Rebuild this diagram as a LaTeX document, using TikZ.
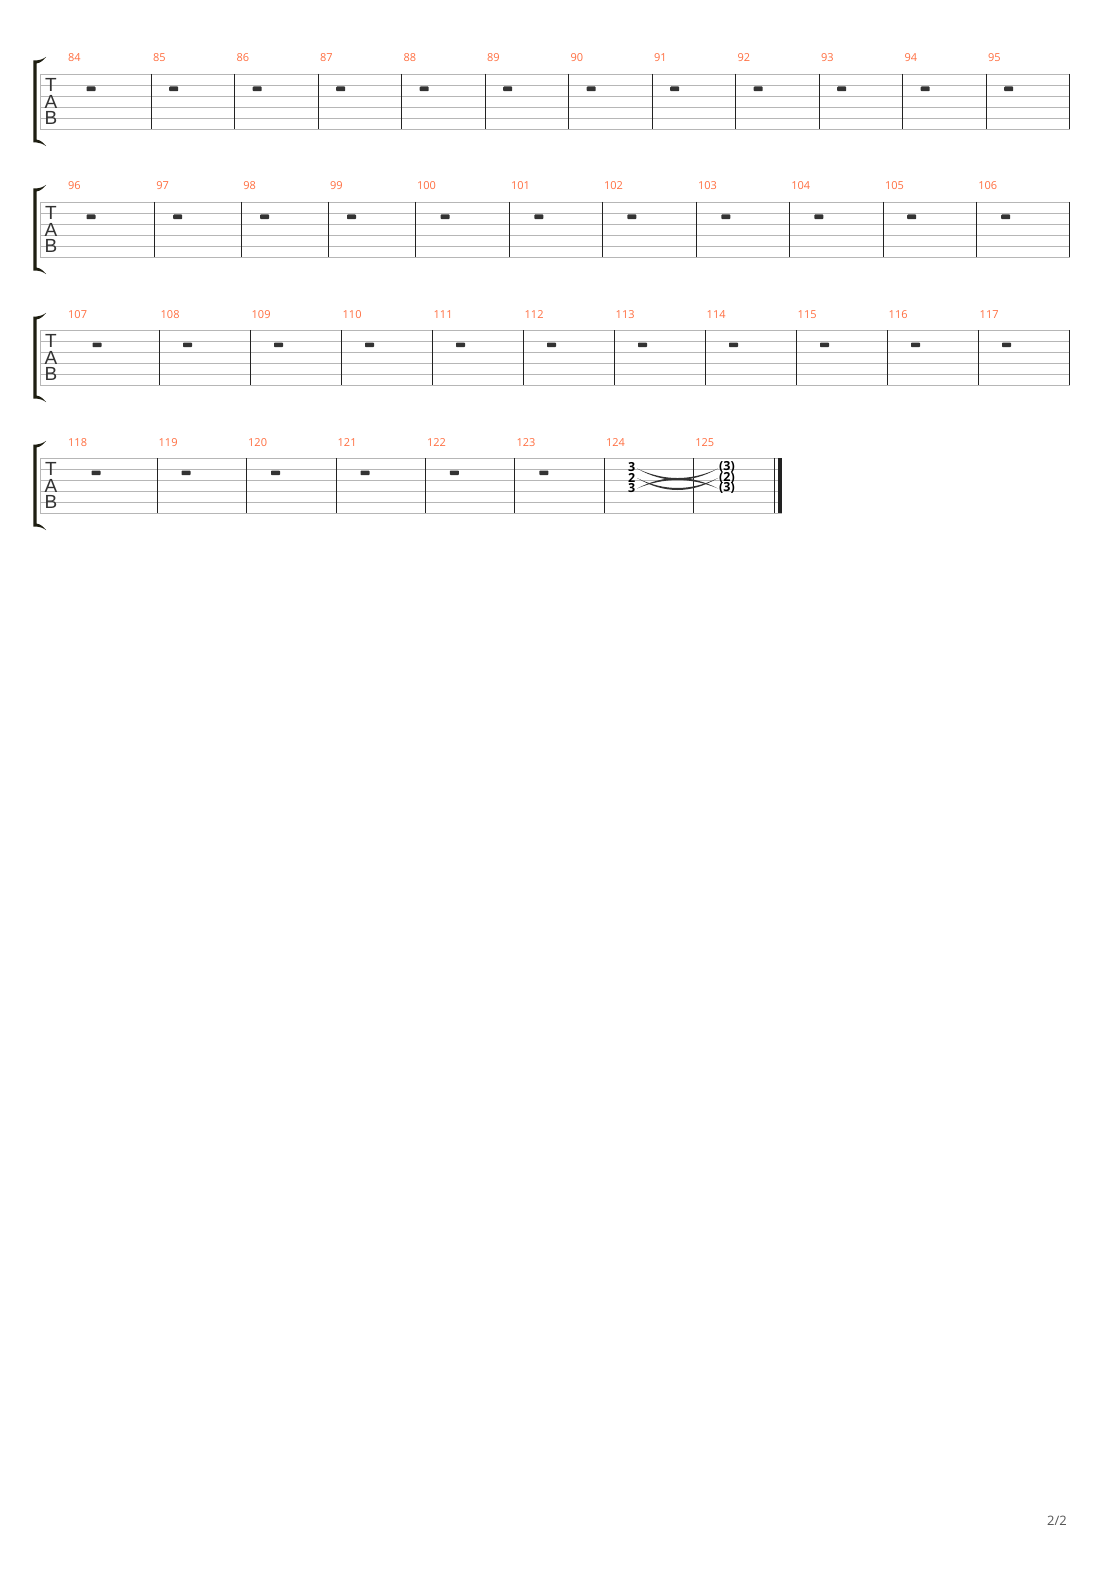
\documentclass[tikz,border=0pt]{standalone}
\usepackage{fontspec}
\setmainfont{Open Sans}
\newfontfamily\tabfont{Liberation Sans}
\definecolor{numc}{RGB}{255,110,64}
\definecolor{staffc}{RGB}{182,182,182}
\definecolor{barc}{RGB}{34,34,34}
\definecolor{restc}{RGB}{51,51,51}
\definecolor{brc}{RGB}{30,30,18}
\definecolor{pagec}{RGB}{85,85,85}
\begin{document}
\begin{tikzpicture}[x=1pt,y=-1pt,
  mnum/.style={anchor=base west,inner sep=0,text=numc,font=\fontsize{11}{11}\selectfont},
  restbox/.style={rectangle,fill=restc,rounded corners=0.8pt,minimum width=9pt,minimum height=4.6pt,inner sep=0,draw=none},
  staffline/.style={draw=staffc,line width=0.9pt},
  barline/.style={draw=barc,line width=1pt},
  clefletter/.style={inner sep=0,text=restc,font=\tabfont\fontsize{19}{19}\selectfont},
  fret/.style={inner sep=0,text=black,font=\bfseries\fontsize{12.5}{12.5}\selectfont},
  tiefill/.style={fill=restc,draw=none}
]
\useasboundingbox[fill=white] (0,0) rectangle (1110,1570);

% staves, brackets and clefs
\foreach \t/\e/\i in {74/1070/1,202/1070/2,330/1070/3,458/782.3/4}{
  \foreach \k in {0,...,5}{
    \draw[staffline] (40,{\t+11*\k}) -- (\e,{\t+11*\k});
  }
  \draw[draw=staffc,line width=0.8pt] (40,\t) -- (40,{\t+55});
  \fill[brc] (33.4,{\t-13.5}) -- (36.6,{\t-13.5})
     .. controls (40,{\t-13.6}) and (43,{\t-15}) .. (46.2,{\t-17.2})
     .. controls (43,{\t-13.2}) and (40,{\t-11}) .. (36.6,{\t-10.6})
     -- (36.6,{\t+65.6})
     .. controls (40,{\t+66}) and (43,{\t+68.2}) .. (46.2,{\t+72.2})
     .. controls (43,{\t+70}) and (40,{\t+68.6}) .. (36.6,{\t+68.5})
     -- (33.4,{\t+68.5}) -- cycle;
  \node[clefletter] (clefT\i) at (51,{\t+11}) {T};
  \node[clefletter] (clefA\i) at (51,{\t+27.6}) {A};
  \node[clefletter] (clefB\i) at (51,{\t+44.2}) {B};
}

% end barlines of rows 1-3
\foreach \t in {74,202,330}{
  \draw[barline] (1069.5,\t) -- (1069.5,{\t+55});
}

% first measures of each row
\foreach \n/\r/\t in {84/91/74,96/91/202,107/97/330,118/96/458}{
  \node[mnum] (m\n) at (68,{\t-12}) {\n};
  \node[restbox] (r\n) at (\r,{\t+14.8}) {};
}

% other measures with rests
\foreach \n/\b/\r/\t in {
  85/151.3/173.7/74, 86/234.8/257.2/74, 87/318.3/340.7/74, 88/401.8/424.2/74,
  89/485.3/507.7/74, 90/568.8/591.2/74, 91/652.3/674.7/74, 92/735.8/758.2/74,
  93/819.3/841.7/74, 94/902.8/925.2/74, 95/986.3/1008.7/74,
  97/154.7/177.7/202, 98/241.6/264.6/202, 99/328.5/351.5/202, 100/415.4/445.1/202,
  101/509.4/538.8/202, 102/602.4/631.8/202, 103/696.4/725.8/202, 104/789.7/818.8/202,
  105/883.3/911.7/202, 106/976.6/1005.7/202,
  108/159/187.5/330, 109/250/278.5/330, 110/341/369.5/330, 111/432/460.5/330,
  112/523/551.5/330, 113/614/642.5/330, 114/705/733.5/330, 115/796/824.5/330,
  116/887/915.5/330, 117/978/1006.5/330,
  119/157/186/458, 120/246.5/275.5/458, 121/336/365/458, 122/425.3/454.3/458,
  123/514.8/543.8/458}{
  \draw[barline] (\b,\t) -- (\b,{\t+55});
  \node[mnum] (m\n) at ({\b+1.5},{\t-12}) {\n};
  \node[restbox] (r\n) at (\r,{\t+14.8}) {};
}

% measures 124 and 125
\draw[barline] (604.3,458) -- (604.3,513);
\node[mnum] (m124) at (605.8,446) {124};
\draw[barline] (693.7,458) -- (693.7,513);
\node[mnum] (m125) at (695.2,446) {125};

\node[fret] (fa) at (631.7,466.8) {3};
\node[fret] (fb) at (631.7,477.5) {2};
\node[fret] (fc) at (631.7,488.2) {3};
\node[fret] (ga) at (727,466.8) {(3)};
\node[fret] (gb) at (727,477.5) {(2)};
\node[fret] (gc) at (727,488.2) {(3)};

% ties
\fill[tiefill] (637,468.5) .. controls (664,483.8) and (691,483.8) .. (718,468.5)
   .. controls (691,481.2) and (664,481.2) .. (637,468.5) -- cycle;
\fill[tiefill] (637,478) .. controls (664,494) and (691,494) .. (718,478)
   .. controls (691,491.3) and (664,491.3) .. (637,478) -- cycle;
\fill[tiefill] (637,488.5) .. controls (664,474.5) and (691,474.5) .. (718,488.5)
   .. controls (691,477.2) and (664,477.2) .. (637,488.5) -- cycle;

% final double barline
\draw[barline] (774.7,458) -- (774.7,513);
\fill[barc] (778.3,458) rectangle (782.3,513);

% page number
\node[inner sep=0,text=pagec,font=\fontsize{13}{13}\selectfont] (page) at (1057,1520.5) {2/2};
\end{tikzpicture}
\end{document}
